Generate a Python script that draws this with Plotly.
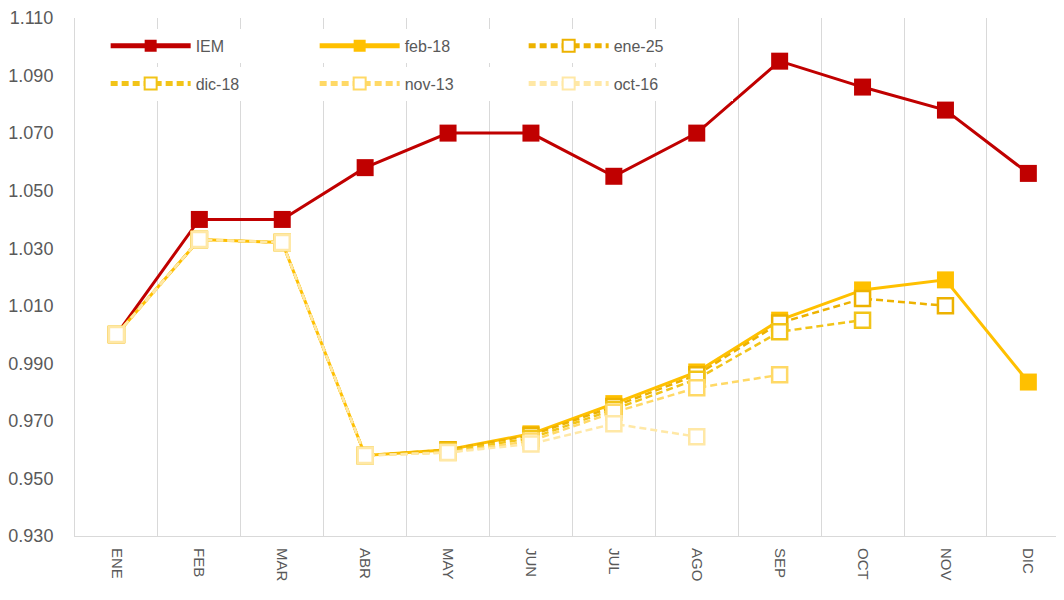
import plotly.graph_objects as go

months = ["ENE", "FEB", "MAR", "ABR", "MAY", "JUN", "JUL", "AGO", "SEP", "OCT", "NOV", "DIC"]
y_ticks = [0.930, 0.950, 0.970, 0.990, 1.010, 1.030, 1.050, 1.070, 1.090, 1.110]

iem = [1.000, 1.040, 1.040, 1.058, 1.070, 1.070, 1.055, 1.070, 1.095, 1.086, 1.078, 1.056]
feb_18 = [1.000, 1.033, 1.032, 0.958, 0.960, 0.9655, 0.976, 0.987, 1.005, 1.0155, 1.019, 0.9835]
ene_25 = [1.000, 1.033, 1.032, 0.958, 0.960, 0.965, 0.975, 0.986, 1.004, 1.0125, 1.010]
dic_18 = [1.000, 1.033, 1.032, 0.958, 0.9595, 0.964, 0.974, 0.9845, 1.001, 1.005]
nov_13 = [1.000, 1.033, 1.032, 0.958, 0.959, 0.963, 0.973, 0.9815, 0.986]
oct_16 = [1.000, 1.033, 1.032, 0.958, 0.959, 0.962, 0.969, 0.9645]

fig = go.Figure()

def add(name, vals, color, filled, dash, legend):
    fig.add_trace(go.Scatter(
        x=months[:len(vals)], y=vals, name=name, mode="lines+markers",
        line=dict(color=color, width=3 if filled else 2.5, dash=dash),
        marker=dict(symbol="square", size=17 if filled else 15,
                    color=color if filled else "white",
                    line=dict(color=color, width=0 if filled else 2.5)),
        legend=legend,
    ))

add("IEM", iem, "#C00000", True, "solid", "legend")
add("feb-18", feb_18, "#FFC000", True, "solid", "legend")
add("ene-25", ene_25, "#EDB200", False, "7px,4px", "legend")
add("dic-18", dic_18, "#F2C418", False, "7px,4px", "legend2")
add("nov-13", nov_13, "#FFD966", False, "7px,4px", "legend2")
add("oct-16", oct_16, "#FFE8A6", False, "7px,4px", "legend2")

legend_common = dict(
    orientation="h", xanchor="left", yanchor="top", x=0.031,
    bgcolor="white", borderwidth=0, itemwidth=80, itemsizing="constant",
    entrywidth=114, entrywidthmode="pixels",
    font=dict(family="Liberation Sans", size=16, color="#595959"),
)

fig.update_layout(
    width=1064, height=600,
    margin=dict(l=67, r=8, t=10, b=72),
    plot_bgcolor="white", paper_bgcolor="white",
    font=dict(family="Liberation Sans", color="#595959"),
    legend=dict(**legend_common, y=0.979),
    legend2=dict(**legend_common, y=0.906),
    xaxis=dict(
        type="category", categoryorder="array", categoryarray=months,
        range=[-0.5, 11.43], tickson="boundaries", ticks="",
        showgrid=True, gridcolor="#D9D9D9", gridwidth=1,
        showline=True, linecolor="#D9D9D9", linewidth=1,
        tickangle=90, tickfont=dict(family="Liberation Sans", size=15, color="#595959"),
        ticklabelstandoff=8, automargin=False,
    ),
    yaxis=dict(
        range=[0.930, 1.110], tickvals=y_ticks, tickformat=".3f",
        showgrid=False, zeroline=False, showline=True, linecolor="#D9D9D9",
        ticks="", ticklabelstandoff=17, automargin=False,
        tickfont=dict(family="Liberation Sans", size=18, color="#595959"),
    ),
)

fig.write_html("out.html")
